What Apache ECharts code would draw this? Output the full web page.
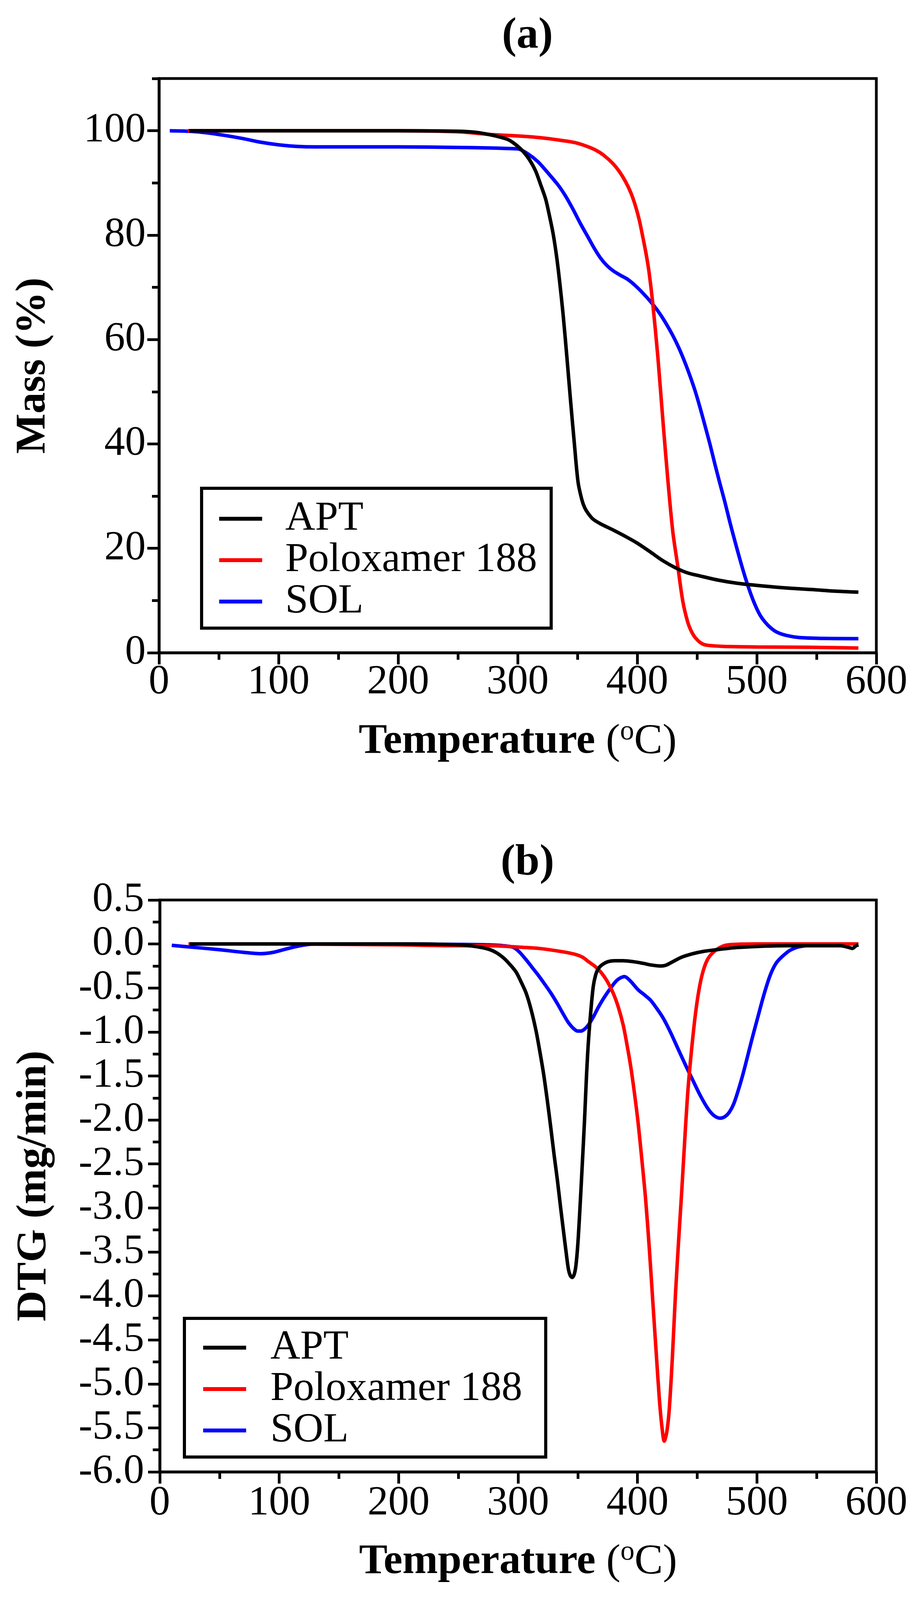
<!DOCTYPE html>
<html>
<head>
<meta charset="utf-8">
<script src="https://cdn.jsdelivr.net/npm/echarts@6.0.0/dist/echarts.min.js"></script>
<style>
  html, body { margin: 0; padding: 0; background: #fff; overflow: hidden; }
  #chart { width: 100vw; height: 100vh; }
</style>
</head>
<body>
<div id="chart"></div>
<script>
// series names and colours
const seriesNames = ['APT', 'Poloxamer 188', 'SOL'];
const seriesColors = ['#000000', '#ff0000', '#0000ff'];

// tick values
const massTicks = [0, 20, 40, 60, 80, 100];

// (a) TGA curves: [temperature (oC), mass (%)]
const massAPT = [
  [25, 100], [100, 100], [200, 100], [250, 99.9], [265, 99.7], [275.5, 99.3], [285, 98.8],
  [292, 98.3], [298, 97.4], [304.7, 96.0], [310, 94.4], [315, 92.3], [319, 89.8], [323.4, 86.9],
  [326.5, 83.8], [329.7, 80.2], [332.5, 76], [334.9, 71.5], [338, 64.8], [341.1, 56.8],
  [344.3, 48.1], [347.4, 40.1], [350.5, 32.7], [353.7, 29.3], [356, 27.8], [358.9, 26.7],
  [363, 25.6], [369.3, 24.7], [380, 23.5], [390, 22.3], [400, 21.0], [411, 19.3], [421, 17.7],
  [431.8, 16.3], [442, 15.3], [452.6, 14.7], [468, 13.9], [483.9, 13.3], [504.7, 12.8],
  [525, 12.4], [546.4, 12.1], [565, 11.8], [585, 11.6]
];
const massPoloxamer = [
  [24, 100], [100, 100], [200, 100], [250, 99.8], [275.5, 99.3], [300, 99.0], [317.2, 98.7],
  [335, 98.2], [348.4, 97.7], [358, 97.0], [365.1, 96.3], [372, 95.3], [379.7, 93.7], [385, 92.2],
  [390.1, 90.3], [394.5, 88.2], [398.5, 85.6], [401.8, 82.8], [404.7, 79.6], [407.5, 76.3],
  [409.9, 72.9], [413, 66.9], [417.2, 56.8], [421.4, 44.7], [425.5, 33.4], [429.7, 23.3],
  [433.9, 16.6], [438.1, 9.9], [442.2, 5.9], [445.5, 4.0], [448.5, 2.9], [452.5, 2.0],
  [456.8, 1.5], [465, 1.3], [473.5, 1.2], [500, 1.1], [525.6, 1.07], [560, 1.0], [585, 0.9]
];
const massSOL = [
  [9, 100], [25, 99.9], [40, 99.6], [55, 99.1], [70, 98.5], [85, 97.8], [100, 97.3], [115, 97.0],
  [130, 96.9], [200, 96.9], [250, 96.8], [275.5, 96.7], [290, 96.6], [300.5, 96.5], [309, 95.5],
  [317.2, 94.0], [325, 92.0], [333.8, 89.6], [340, 87.5], [346.4, 84.9], [352.5, 82.2],
  [358.9, 79.6], [364, 77.5], [369.3, 75.6], [374.5, 74.2], [379.7, 73.2], [386, 72.3],
  [392.2, 71.5], [398.5, 70.3], [404.7, 68.9], [411, 67.3], [417.2, 65.5], [423.5, 63.3],
  [429.7, 60.8], [435, 58.3], [440.1, 55.5], [444.5, 52.8], [448.5, 50.1], [452.5, 47],
  [456.8, 43.4], [461, 39.8], [465.1, 36.0], [469.3, 32.3], [473.5, 28.7], [477.5, 25.0],
  [481.8, 21.3], [486, 17.8], [490.1, 14.6], [494.3, 11.7], [498.5, 9.2], [502.5, 7.3],
  [506.8, 5.9], [512, 4.7], [517.2, 3.9], [525, 3.3], [536, 2.9], [555, 2.75], [585, 2.7]
];

// (b) DTG curves: [temperature (oC), DTG (mg/min)]
const dtgAPT = [
  [25, 0], [100, 0], [200, 0], [250, -0.01], [265, -0.03], [275.5, -0.06], [282, -0.1],
  [288, -0.16], [293, -0.23], [298.4, -0.32], [302.5, -0.43], [306.8, -0.56], [311, -0.75],
  [315.1, -0.99], [318.2, -1.22], [321.3, -1.47], [324.5, -1.78], [327.6, -2.11], [330.2, -2.4],
  [332.8, -2.67], [335.4, -2.97], [338, -3.26], [340.2, -3.5], [342.2, -3.70], [343.8, -3.77],
  [345.3, -3.79], [346.9, -3.76], [348.4, -3.66], [350, -3.42], [351.6, -3.06], [353.6, -2.55],
  [355.7, -1.99], [357.3, -1.5], [358.9, -1.11], [361, -0.75], [363, -0.48], [365, -0.35],
  [367.2, -0.28], [371, -0.23], [375.5, -0.20], [381, -0.19], [388, -0.19], [396, -0.2],
  [404.7, -0.22], [412, -0.24], [419.3, -0.25], [424, -0.24], [429.7, -0.20], [437, -0.15],
  [446.4, -0.11], [455, -0.085], [463, -0.07], [483.9, -0.04], [525.6, -0.02], [570, -0.02],
  [577, -0.04], [580, -0.05], [583, -0.02], [585, -0.01]
];
const dtgPoloxamer = [
  [24, 0], [100, 0], [200, -0.01], [250, -0.02], [275.5, -0.02], [300, -0.035], [317.2, -0.05],
  [338, -0.09], [348.4, -0.12], [354, -0.15], [358.9, -0.20], [364, -0.25], [369.3, -0.32],
  [374.5, -0.42], [379.7, -0.56], [384, -0.72], [388, -0.92], [391, -1.13], [394.3, -1.39],
  [397.5, -1.70], [400.5, -2.03], [403.5, -2.43], [406.8, -2.90], [410, -3.48], [413, -4.10],
  [415.8, -4.67], [418.3, -5.17], [420.4, -5.48], [422.4, -5.65], [424.5, -5.55], [426.6, -5.29],
  [429.2, -4.70], [431.8, -3.98], [434.4, -3.38], [437, -2.82], [439.6, -2.22], [442.2, -1.67],
  [445.3, -1.20], [448.5, -0.80], [451.5, -0.52], [454.7, -0.32], [458.5, -0.18], [463, -0.10],
  [469, -0.04], [475.6, -0.01], [500, 0], [585, 0]
];
const dtgSOL = [
  [10, -0.015], [30, -0.04], [50, -0.065], [70, -0.095], [84.6, -0.11], [95, -0.095], [105, -0.06],
  [114, -0.03], [122, -0.01], [130, 0], [200, 0], [250, -0.005], [275.5, -0.01], [288, -0.02],
  [296.3, -0.04], [301, -0.09], [306.8, -0.18], [312, -0.27], [317.2, -0.36], [322.5, -0.46],
  [327.6, -0.56], [333, -0.68], [338, -0.80], [342, -0.89], [346.4, -0.96], [350, -0.99],
  [352.6, -0.99], [355.5, -0.97], [358.9, -0.92], [363, -0.83], [367.2, -0.72], [372, -0.61],
  [377.6, -0.50], [383, -0.41], [389.1, -0.37], [394, -0.42], [400.5, -0.52], [406, -0.58],
  [411, -0.64], [416, -0.73], [421.4, -0.84], [427.5, -1.0], [433.9, -1.19], [440, -1.37],
  [446.4, -1.55], [452.5, -1.72], [458.9, -1.87], [464, -1.95], [469.3, -1.98], [473.5, -1.96],
  [477, -1.91], [480.5, -1.82], [484, -1.68], [487.5, -1.52], [491, -1.34], [495.3, -1.11],
  [500.6, -0.84], [505.8, -0.58], [511, -0.36], [516, -0.22], [521.4, -0.14], [528, -0.07],
  [536, -0.03], [556.8, 0], [585, 0]
];

const massData = [massAPT, massPoloxamer, massSOL];
const dtgData = [dtgAPT, dtgPoloxamer, dtgSOL];

const serif = '"Liberation Serif", "Times New Roman", serif';
const black = '#000';

// layout is measured on a 2365 x 4316 page; scale to whatever the viewport is
const el = document.getElementById('chart');
const sx = el.clientWidth / 2365;
const sy = el.clientHeight / 4316;
const X = v => Math.round(v * sx);
const Y = v => Math.round(v * sy);

function xAxisFor(gridIndex, labelMargin, nameGap) {
  return {
    gridIndex: gridIndex,
    type: 'value',
    min: 0,
    max: 600,
    interval: 100,
    axisLine: { onZero: false, lineStyle: { color: black, width: 7 } },
    axisTick: { length: 30, lineStyle: { color: black, width: 7 } },
    minorTick: { show: true, splitNumber: 2, length: 18, lineStyle: { color: black, width: 7 } },
    splitLine: { show: false },
    axisLabel: { fontFamily: serif, fontSize: 106, color: black, margin: Y(labelMargin) },
    name: '{b|Temperature} {r|(}{sup|o}{r|C)}',
    nameLocation: 'middle',
    nameGap: Y(nameGap),
    nameTextStyle: {
      fontFamily: serif, fontSize: 109, fontWeight: 'bold', color: black,
      rich: {
        b: { fontFamily: serif, fontSize: 109, fontWeight: 'bold', color: black },
        r: { fontFamily: serif, fontSize: 109, fontWeight: 'normal', color: black },
        // superscript "o": bottom padding lifts it towards the cap height
        sup: { fontFamily: serif, fontSize: 72, fontWeight: 'normal', color: black, padding: [0, 0, 50, 0] }
      }
    }
  };
}

function makeSeries(dataSets, xIdx, yIdx) {
  return dataSets.map(function (d, i) {
    return {
      name: seriesNames[i],
      type: 'line',
      xAxisIndex: xIdx,
      yAxisIndex: yIdx,
      data: d,
      symbol: 'none',
      smooth: 0.3,
      lineStyle: { color: seriesColors[i], width: 9 },
      itemStyle: { color: seriesColors[i] },
      z: 3 - i
    };
  });
}

function legendFor(left, top, padding, textPadLeft) {
  return {
    orient: 'vertical',
    left: X(left),
    top: Y(top),
    data: seriesNames,
    selectedMode: false,
    icon: 'rect',
    padding: padding,
    itemGap: 0,
    itemWidth: 110,
    itemHeight: 10,
    borderColor: black,
    borderWidth: 8,
    backgroundColor: '#fff',
    textStyle: { fontFamily: serif, fontSize: 106, color: black, lineHeight: Y(100), padding: [0, 0, 0, textPadLeft] }
  };
}

const chart = echarts.init(el, null, { renderer: 'canvas' });

const option = {
  backgroundColor: '#fff',
  animation: false,
  title: [
    { text: '(a)', left: X(1350), top: Y(39), textAlign: 'center', padding: 0,
      textStyle: { fontFamily: serif, fontSize: 112, fontWeight: 'bold', color: black } },
    { text: '(b)', left: X(1350), top: Y(2270), textAlign: 'center', padding: 0,
      textStyle: { fontFamily: serif, fontSize: 112, fontWeight: 'bold', color: black } }
  ],
  grid: [
    { left: X(407), top: Y(212), width: X(1836), height: Y(1549), show: true, borderColor: black, borderWidth: 7 },
    { left: X(409), top: Y(2428), width: X(1834), height: Y(1543), show: true, borderColor: black, borderWidth: 7 }
  ],
  legend: [
    legendFor(516, 1317, [Y(26), 36, Y(16), 45], 54),
    legendFor(472, 3556, [Y(23), 60, Y(16), 48], 57)
  ],
  xAxis: [
    xAxisFor(0, 24, 176),
    xAxisFor(1, 29, 179)
  ],
  yAxis: [
    {
      gridIndex: 0,
      type: 'value',
      position: 'left',
      min: 0,
      max: 110,
      interval: 10,
      axisLine: { onZero: false, lineStyle: { color: black, width: 7 } },
      axisTick: { length: 30, customValues: massTicks, lineStyle: { color: black, width: 7 } },
      splitLine: { show: false },
      axisLabel: { customValues: massTicks, fontFamily: serif, fontSize: 106, color: black, margin: 34 },
      name: 'Mass (%)',
      nameLocation: 'middle',
      nameGap: 267,
      nameTextStyle: { fontFamily: serif, fontSize: 109, fontWeight: 'bold', color: black }
    },
    {
      // short ticks every 10 % on panel (a)
      gridIndex: 0,
      type: 'value',
      position: 'left',
      min: 0,
      max: 110,
      interval: 10,
      axisLine: { show: false },
      axisTick: { length: 18, lineStyle: { color: black, width: 7 } },
      splitLine: { show: false },
      axisLabel: { show: false }
    },
    {
      gridIndex: 1,
      type: 'value',
      position: 'left',
      min: -6,
      max: 0.5,
      interval: 0.5,
      axisLine: { onZero: false, lineStyle: { color: black, width: 7 } },
      axisTick: { length: 30, lineStyle: { color: black, width: 7 } },
      minorTick: { show: true, splitNumber: 2, length: 18, lineStyle: { color: black, width: 7 } },
      splitLine: { show: false },
      axisLabel: {
        fontFamily: serif, fontSize: 106, color: black, margin: 40,
        formatter: function (v) { return v.toFixed(1); }
      },
      name: 'DTG (mg/min)',
      nameLocation: 'middle',
      nameGap: 267,
      nameTextStyle: { fontFamily: serif, fontSize: 109, fontWeight: 'bold', color: black }
    }
  ],
  series: makeSeries(massData, 0, 0).concat(makeSeries(dtgData, 1, 2))
};

chart.setOption(option);
</script>
</body>
</html>
